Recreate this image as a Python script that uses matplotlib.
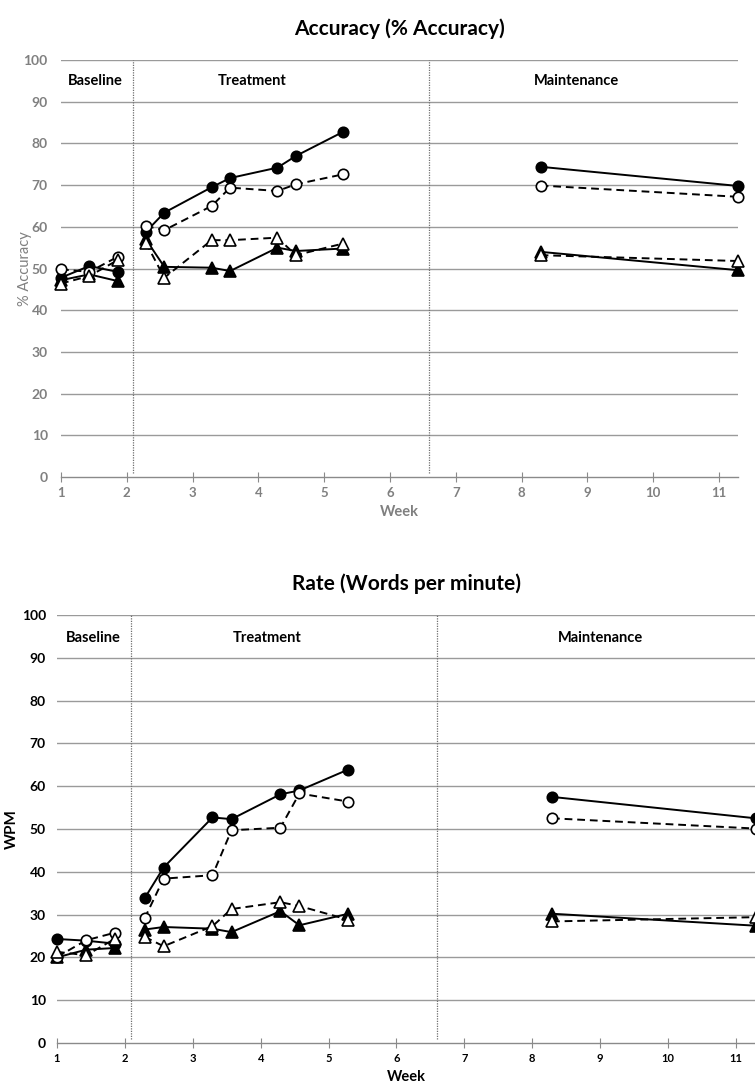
import numpy as np
import matplotlib
matplotlib.use("Agg")
import matplotlib.pyplot as plt

plt.rcParams['font.family'] = ['Lato', 'DejaVu Sans']

# Weeks of each probe and the phase each belongs to
weeks = [1, 1.43, 1.86, 2.29, 2.57, 3.29, 3.57, 4.29, 4.57, 5.29, 8.29, 11.29]
phase = [0, 0, 0, 1, 1, 1, 1, 1, 1, 1, 2, 2]

phase_names = ["Baseline", "Treatment", "Maintenance"]
phase_breaks = [2.09, 6.6]

# Accuracy (%)
acc_fc = [47.8, 50.6, 49.2, 58.8, 63.4, 69.5, 71.7, 74.2, 77.0, 82.8, 74.4, 69.8]
acc_oc = [49.8, 49.2, 52.8, 60.2, 59.2, 65.0, 69.4, 68.6, 70.2, 72.6, 69.9, 67.2]
acc_ft = [47.2, 48.6, 47.0, 57.0, 50.4, 50.2, 49.4, 55.0, 54.2, 54.8, 54.0, 49.6]
acc_ot = [46.4, 48.2, 52.0, 56.2, 47.8, 56.8, 56.8, 57.4, 53.2, 56.0, 53.2, 51.8]

# Rate (words per minute)
wpm_fc = [24.3, 23.9, 23.2, 33.8, 41.0, 52.7, 52.3, 58.1, 59.0, 63.9, 57.5, 52.5]
wpm_oc = [20.1, 24.0, 25.8, 29.1, 38.4, 39.2, 49.7, 50.3, 58.3, 56.4, 52.5, 50.1]
wpm_ft = [20.0, 21.8, 22.2, 26.5, 27.1, 26.7, 25.9, 30.8, 27.5, 30.2, 30.2, 27.4]
wpm_ot = [21.3, 20.5, 24.4, 24.8, 22.6, 27.3, 31.3, 32.9, 32.0, 28.8, 28.4, 29.4]

weeks = np.array(weeks)
phase = np.array(phase)


def draw_series(ax, vals, marker, filled, dashed):
    vals = np.array(vals)
    for p in range(3):
        m = phase == p
        ax.plot(weeks[m], vals[m], color="black", lw=1.4,
                ls=(0, (4, 2.5)) if dashed else "-",
                marker=marker, ms=7.5 if marker == "o" else 8.5,
                mfc="black" if filled else "white", mec="black", mew=1.2,
                clip_on=False, zorder=3)


def setup(ax, title, ylabel, xmax, txtcolor, label_pos, lab_y, ylab_kw, ticksize, ypad, ylab_x):
    ax.set_xlim(1, xmax)
    ax.set_ylim(0, 100)
    ax.set_yticks(range(0, 101, 10))
    ax.set_xticks(range(1, 12))
    for y in range(10, 101, 10):
        ax.axhline(y, color="#9a9a9a", lw=1.0, zorder=1)
    for s in ["top", "right", "left"]:
        ax.spines[s].set_visible(False)
    ax.spines["bottom"].set_color("#8a8a8a")
    ax.spines["bottom"].set_linewidth(1.0)
    ax.tick_params(axis="y", length=0, labelsize=10, labelcolor=txtcolor, pad=ypad)
    ax.tick_params(axis="x", direction="inout", length=7, color="#8a8a8a",
                   labelsize=ticksize, labelcolor=txtcolor, pad=4)
    for lab in ax.get_xticklabels() + ax.get_yticklabels():
        lab.set_fontweight("bold")
    for xb in phase_breaks:
        ax.axvline(xb, ymin=0.01, ymax=1, color="#6f6f6f", lw=0.9, ls=(0, (1, 1)), zorder=2)
    for name, xp in zip(phase_names, label_pos):
        ax.text(xp, lab_y, name, ha="center", va="center", fontsize=10.5,
                fontweight="bold", color="black")
    ax.set_title(title, fontsize=15, fontweight="bold", pad=18)
    ax.set_xlabel("Week", fontsize=10.5, fontweight="bold", color=txtcolor, labelpad=4)
    ax.set_ylabel(ylabel, color=txtcolor, **ylab_kw)
    ax.yaxis.set_label_coords(ylab_x, 0.5)


fig = plt.figure(figsize=(7.55, 10.92), dpi=100)

ax1 = fig.add_axes([0.0808, 0.5632, 0.8967, 0.3818])
setup(ax1, "Accuracy (% Accuracy)", "% Accuracy", 11.29, "#808080",
      [1.52, 3.9, 8.84], 95, dict(fontsize=10.5), 9.5, 9.5, -0.043)
draw_series(ax1, acc_fc, "o", True, False)
draw_series(ax1, acc_ft, "^", True, False)
draw_series(ax1, acc_oc, "o", False, True)
draw_series(ax1, acc_ot, "^", False, True)

ax2 = fig.add_axes([0.0755, 0.0449, 0.9245, 0.3919])
setup(ax2, "Rate (Words per minute)", "WPM", 11.28, "black",
      [1.54, 4.09, 9.0], 94.6, dict(fontsize=11, fontweight="bold"), 8, 8, -0.054)
draw_series(ax2, wpm_fc, "o", True, False)
draw_series(ax2, wpm_ft, "^", True, False)
draw_series(ax2, wpm_oc, "o", False, True)
draw_series(ax2, wpm_ot, "^", False, True)

fig.savefig("out.png", dpi=100)
